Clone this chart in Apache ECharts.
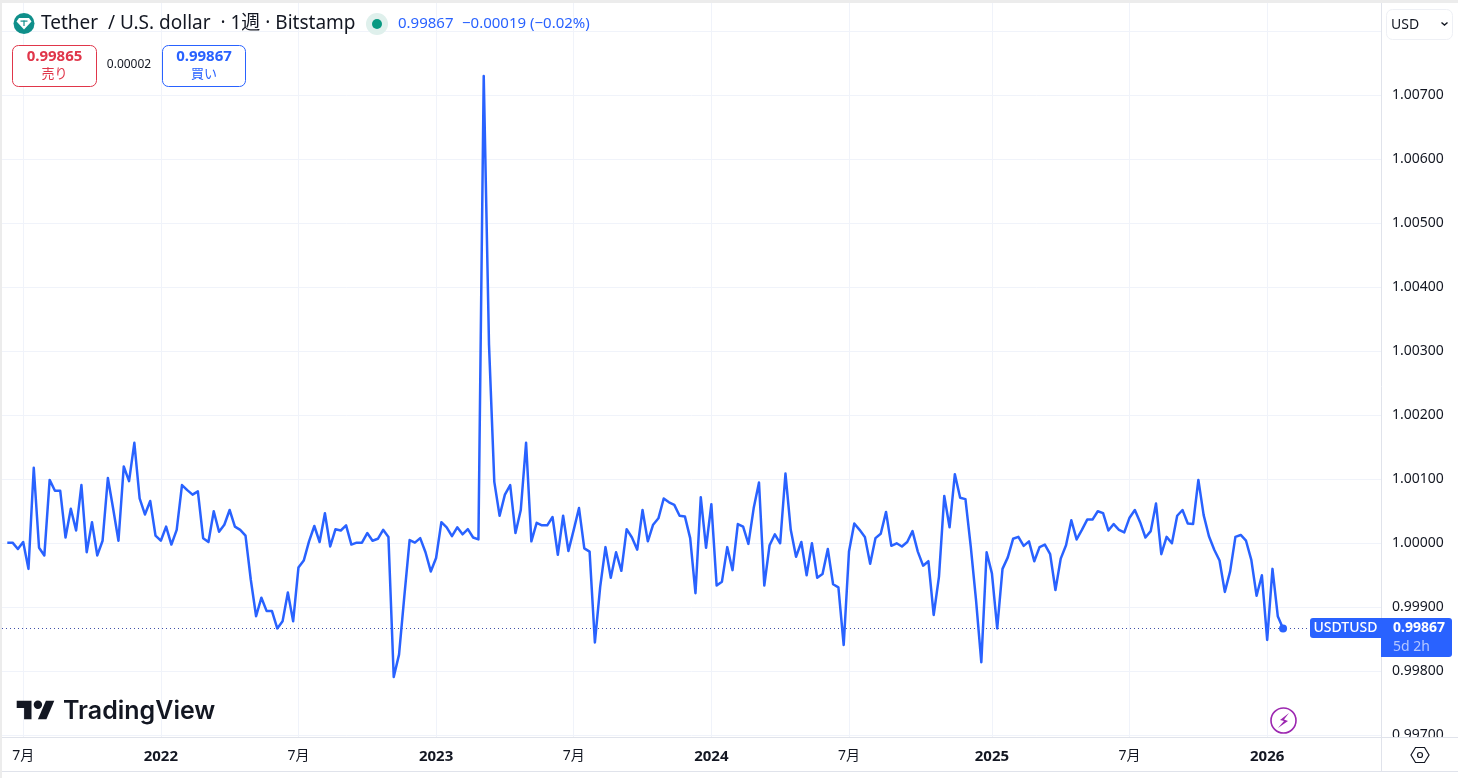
<!DOCTYPE html>
<html lang="ja">
<head>
<meta charset="UTF-8">
<title>USDTUSD</title>
<script src="https://cdn.jsdelivr.net/npm/echarts@6/dist/echarts.min.js"></script>
<style>
html, body { margin: 0; padding: 0; background: #fff; }
#main { width: 1458px; height: 778px; }
</style>
</head>
<body>
<div id="main"></div>
<script type="text/javascript">
// weekly closes, first bar is the week of 2021-06-14
var closes = [
  1.00001, 1.00001, 0.99991, 1.00002, 0.99960, 1.00118, 0.99993, 0.99981, 1.00099, 1.00082,
  1.00082, 1.00009, 1.00054, 1.00020, 1.00091, 0.99986, 1.00033, 0.99981, 1.00004, 1.00102,
  1.00054, 1.00004, 1.00120, 1.00097, 1.00157, 1.00070, 1.00045, 1.00066, 1.00012, 1.00004,
  1.00026, 0.99998, 1.00021, 1.00091, 1.00083, 1.00076, 1.00081, 1.00008, 1.00002, 1.00050,
  1.00018, 1.00029, 1.00052, 1.00026, 1.00021, 1.00012, 0.99943, 0.99886, 0.99915, 0.99894,
  0.99894, 0.99867, 0.99878, 0.99923, 0.99878, 0.99962, 0.99973, 1.00003, 1.00027, 1.00002,
  1.00047, 0.99995, 1.00022, 1.00020, 1.00028, 0.99998, 1.00001, 1.00001, 1.00016, 1.00004,
  1.00007, 1.00021, 1.00010, 0.99791, 0.99826, 0.99917, 1.00005, 1.00001, 1.00008, 0.99986,
  0.99956, 0.99977, 1.00033, 1.00025, 1.00011, 1.00025, 1.00014, 1.00022, 1.00009, 1.00006,
  1.00730, 1.00310, 1.00096, 1.00043, 1.00076, 1.00091, 1.00016, 1.00052, 1.00157, 1.00003,
  1.00032, 1.00028, 1.00028, 1.00041, 0.99982, 1.00043, 0.99988, 1.00021, 1.00055, 0.99992,
  0.99987, 0.99845, 0.99932, 0.99994, 0.99946, 0.99986, 0.99957, 1.00022, 1.00009, 0.99990,
  1.00052, 1.00003, 1.00029, 1.00039, 1.00070, 1.00064, 1.00060, 1.00043, 1.00042, 1.00008,
  0.99922, 1.00072, 0.99993, 1.00061, 0.99934, 0.99940, 0.99994, 0.99958, 1.00030, 1.00026,
  0.99999, 1.00055, 1.00095, 0.99934, 0.99997, 1.00014, 1.00000, 1.00109, 1.00021, 0.99979,
  1.00002, 0.99950, 1.00000, 0.99946, 0.99952, 0.99991, 0.99936, 0.99931, 0.99841, 0.99987,
  1.00031, 1.00021, 1.00010, 0.99968, 1.00008, 1.00015, 1.00049, 0.99996, 1.00000, 0.99995,
  1.00002, 1.00019, 0.99987, 0.99965, 0.99972, 0.99888, 0.99948, 1.00074, 1.00025, 1.00108,
  1.00071, 1.00069, 0.99995, 0.99911, 0.99814, 0.99986, 0.99953, 0.99867, 0.99960, 0.99978,
  1.00007, 1.00010, 0.99996, 1.00003, 0.99972, 0.99994, 0.99998, 0.99983, 0.99927, 0.99976,
  0.99997, 1.00036, 1.00006, 1.00021, 1.00037, 1.00037, 1.00050, 1.00047, 1.00020, 1.00030,
  1.00021, 1.00017, 1.00040, 1.00052, 1.00033, 1.00009, 1.00019, 1.00062, 0.99983, 1.00010,
  1.00000, 1.00043, 1.00052, 1.00031, 1.00030, 1.00099, 1.00044, 1.00011, 0.99990, 0.99973,
  0.99924, 0.99956, 1.00010, 1.00013, 1.00004, 0.99974, 0.99918, 0.99950, 0.99849, 0.99960,
  0.99886, 0.99867
];
var lastPrice = 0.99867;

// tick positions counted in bars from the first week
var xTickBars = [3, 29, 55, 81, 107, 133, 159, 186, 212, 238];
var xTickLabels = ['7月', '2022', '7月', '2023', '7月', '2024', '7月', '2025', '7月', '2026'];
var yGridValues = [0.997, 0.998, 0.999, 1.000, 1.001, 1.002, 1.003, 1.004, 1.005, 1.006, 1.007, 1.008];
var yLabelValues = [0.997, 0.998, 0.999, 1.000, 1.001, 1.002, 1.003, 1.004, 1.005, 1.006, 1.007];

var FONT = '"Noto Sans", "Noto Sans CJK JP", sans-serif';
var BLUE = '#2962ff';
var INK = '#131722';
var RED = '#e0364a';
var GRID = '#f0f3fa';
var EDGE = '#e0e3eb';

var lineData = closes.map(function (v, i) { return [i, v]; });

function text(x, y, s, size, color, extra) {
    var style = { x: x, y: y, text: s, fontSize: size, fontFamily: FONT, fill: color, verticalAlign: 'middle' };
    for (var k in extra) { style[k] = extra[k]; }
    return { type: 'text', z: 20, silent: true, style: style };
}
function box(x, y, w, h, r, fill, stroke, z) {
    return { type: 'rect', z: z || 20, silent: true, shape: { x: x, y: y, width: w, height: h, r: r },
        style: { fill: fill, stroke: stroke || null, lineWidth: 1 } };
}
function shape(type, sh, style, z) {
    return { type: type, z: z || 20, silent: true, shape: sh, style: style };
}
function decorations(priceY) {
    return [
        // frame
        box(0, 737, 1458, 34, 0, '#fff', null, 2),
        shape('line', { x1: 2, y1: 737.5, x2: 1458, y2: 737.5 }, { stroke: EDGE, lineWidth: 1 }),
        shape('line', { x1: 2, y1: 771.5, x2: 1458, y2: 771.5 }, { stroke: EDGE, lineWidth: 1 }),
        shape('line', { x1: 1381.5, y1: 2, x2: 1381.5, y2: 771 }, { stroke: EDGE, lineWidth: 1 }),
        box(0, 0, 1458, 3, 0, '#ececec'),
        box(0, 0, 2, 778, 0, '#ececec'),
        // header
        shape('circle', { cx: 24, cy: 23.5, r: 10.5 }, { fill: '#0f8f8a' }),
        shape('polygon', { points: [[19, 18], [29, 18], [31.5, 21.5], [24, 29.5], [16.5, 21.5]] }, { fill: '#fff' }, 21),
        box(20.5, 20.5, 7, 1.2, 0, '#0f8f8a', null, 22),
        box(23.4, 20.5, 1.2, 5.5, 0, '#0f8f8a', null, 22),
        text(41, 24, 'Tether  / U.S. dollar  · 1週 · Bitstamp', 19, INK),
        shape('circle', { cx: 377, cy: 24, r: 11 }, { fill: '#dff0ec' }),
        shape('circle', { cx: 377, cy: 24, r: 5 }, { fill: '#089981' }, 21),
        text(398, 24, '0.99867', 15, BLUE),
        text(462, 24, '−0.00019 (−0.02%)', 15, BLUE),
        // sell and buy boxes
        box(12.5, 45.5, 84, 41, 6, '#fff', RED),
        text(54.5, 57, '0.99865', 15, RED, { align: 'center', fontWeight: 'bold' }),
        text(54.5, 74, '売り', 13, RED, { align: 'center' }),
        text(129, 65, '0.00002', 12, INK, { align: 'center' }),
        box(162.5, 45.5, 83, 41, 6, '#fff', BLUE),
        text(204, 57, '0.99867', 15, BLUE, { align: 'center', fontWeight: 'bold' }),
        text(204, 74, '買い', 13, BLUE, { align: 'center' }),
        // currency picker
        box(1386.5, 9.5, 66, 30, 6, '#fff', '#eef0f5'),
        text(1391, 25, 'USD', 14, INK),
        shape('polyline', { points: [[1441.5, 22.5], [1444.5, 25], [1447.5, 22.5]] }, { fill: null, stroke: INK, lineWidth: 1.4 }, 21),
        // last price tags
        box(1310, priceY - 10, 71, 20, [3, 0, 0, 3], BLUE),
        text(1345.5, priceY + 0.5, 'USDTUSD', 14, '#fff', { align: 'center', fontWeight: 500 }),
        box(1381, priceY - 10, 71, 39, [0, 3, 3, 0], BLUE),
        text(1393, priceY + 0.5, '0.99867', 14, '#fff', { fontWeight: 'bold' }),
        text(1393, priceY + 19, '5d 2h', 14, '#b4c7ff'),
        // TradingView logo
        shape('polygon', { points: [[16.7, 700.7], [31.5, 700.7], [31.5, 719.3], [24.1, 719.3], [24.1, 707.9], [16.7, 707.9]] }, { fill: INK }),
        shape('polygon', { points: [[37.9, 719.3], [45.9, 700.7], [54.3, 700.7], [46.4, 719.3]] }, { fill: INK }),
        shape('circle', { cx: 37.9, cy: 704.8, r: 4.2 }, { fill: INK }),
        text(63, 711, 'TradingView', 25, INK, { fontFamily: 'Inter, sans-serif', fontWeight: 600 }),
        // bolt badge
        shape('circle', { cx: 1283.5, cy: 720.5, r: 12.5 }, { fill: '#fff', stroke: '#9c27b0', lineWidth: 1.6 }),
        shape('polygon', { points: [[1289, 713], [1280, 720], [1284, 721], [1278, 728], [1288, 721], [1284, 719.5]] }, { fill: '#9c27b0' }, 21),
        // settings hexagon
        shape('polygon', { points: [[1411, 755], [1415.5, 747.5], [1424.5, 747.5], [1429, 755], [1424.5, 762.5], [1415.5, 762.5]] }, { fill: null, stroke: INK, lineWidth: 1.2 }),
        shape('circle', { cx: 1420, cy: 755, r: 2.5 }, { fill: null, stroke: INK, lineWidth: 1.2 })
    ];
}

var myChart = echarts.init(document.getElementById('main'), null, { renderer: 'canvas' });
myChart.setOption({
    animation: false,
    backgroundColor: '#fff',
    textStyle: { fontFamily: FONT },
    grid: { left: 2, right: 77, top: 3, bottom: 41 },
    xAxis: {
        type: 'value',
        z: 3,
        min: -1,
        max: 259.5,
        axisLine: { show: false },
        axisTick: { show: false, customValues: xTickBars },
        splitLine: { show: true, lineStyle: { color: GRID, width: 1 } },
        axisLabel: {
            customValues: xTickBars,
            margin: 12,
            fontSize: 14,
            color: INK,
            formatter: function (value) {
                var s = xTickLabels[xTickBars.indexOf(value)];
                return s === '7月' ? s : '{y|' + s + '}';
            },
            rich: { y: { fontSize: 15, fontWeight: 'bold', color: INK, fontFamily: FONT } }
        }
    },
    yAxis: {
        type: 'value',
        position: 'right',
        z: 1,
        min: 0.996973,
        max: 1.008442,
        axisLine: { show: false },
        axisTick: { show: false, customValues: yGridValues },
        splitLine: { show: true, lineStyle: { color: GRID, width: 1 } },
        axisLabel: {
            customValues: yLabelValues,
            margin: 11,
            fontSize: 14,
            color: INK,
            formatter: function (v) { return v.toFixed(5); }
        }
    },
    series: [
        {
            name: 'USDTUSD',
            type: 'line',
            data: lineData,
            symbol: 'none',
            z: 5,
            lineStyle: { color: BLUE, width: 2.5, join: 'round' },
            markLine: {
                silent: true,
                symbol: 'none',
                precision: 5,
                label: { show: false },
                lineStyle: { color: '#3f4fa8', type: [1, 3], width: 1 },
                data: [{ yAxis: lastPrice }]
            }
        },
        {
            name: 'last',
            type: 'scatter',
            data: [lineData[lineData.length - 1]],
            symbol: 'circle',
            symbolSize: 8,
            z: 6,
            itemStyle: { color: BLUE, opacity: 1 }
        }
    ]
});
myChart.setOption({ graphic: decorations(Math.round(myChart.convertToPixel({ yAxisIndex: 0 }, lastPrice))) });
</script>
</body>
</html>
